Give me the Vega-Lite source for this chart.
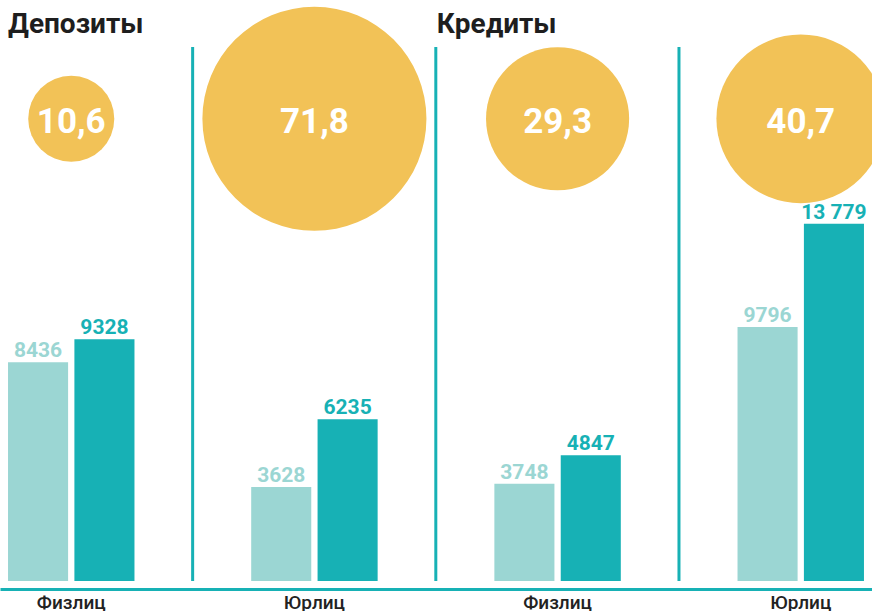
{
  "$schema": "https://vega.github.io/schema/vega-lite/v6.json",
  "width": 872,
  "height": 534,
  "autosize": {"type": "none"},
  "padding": {"left": 0, "top": 47, "right": 0, "bottom": 30},
  "background": "white",
  "config": {
    "view": {"stroke": null},
    "font": "Roboto",
    "axisY": {"disable": true},
    "axisX": {"title": null, "domain": true, "domainColor": "#17b1b5", "domainWidth": 3, "ticks": false, "grid": false, "labelAngle": 0, "offset": 8, "labelFontSize": 19, "labelColor": "#222222", "labelFontWeight": 500, "labelPadding": 4, "labelExpr": "split(datum.label, ' ')[1]"}
  },
  "datasets": {
    "bars": [
      {"grp": "Депозиты Физлиц", "s": "a", "v": 8436, "t": "8436"},
      {"grp": "Депозиты Физлиц", "s": "b", "v": 9328, "t": "9328"},
      {"grp": "Депозиты Юрлиц", "s": "a", "v": 3628, "t": "3628"},
      {"grp": "Депозиты Юрлиц", "s": "b", "v": 6235, "t": "6235"},
      {"grp": "Кредиты Физлиц", "s": "a", "v": 3748, "t": "3748"},
      {"grp": "Кредиты Физлиц", "s": "b", "v": 4847, "t": "4847"},
      {"grp": "Кредиты Юрлиц", "s": "a", "v": 9796, "t": "9796"},
      {"grp": "Кредиты Юрлиц", "s": "b", "v": 13779, "t": "13 779"}
    ],
    "circles": [
      {"grp": "Депозиты Физлиц", "p": 10.6, "t": "10,6"},
      {"grp": "Депозиты Юрлиц", "p": 71.8, "t": "71,8"},
      {"grp": "Кредиты Физлиц", "p": 29.3, "t": "29,3"},
      {"grp": "Кредиты Юрлиц", "p": 40.7, "t": "40,7"}
    ]
  },
  "layer": [
    {
      "data": {"values": [{"grp": "Депозиты Физлиц"}, {"grp": "Депозиты Юрлиц"}, {"grp": "Кредиты Физлиц"}]},
      "mark": {"type": "rule", "color": "#17b1b5", "strokeWidth": 3},
      "encoding": {
        "x": {"field": "grp", "type": "nominal", "bandPosition": 1.46}
      }
    },
    {
      "data": {"name": "circles"},
      "mark": {"type": "circle", "color": "#f2c257", "opacity": 1},
      "encoding": {
        "x": {"field": "grp", "type": "nominal"},
        "y": {"datum": 17830, "type": "quantitative", "scale": {"domain": [0, 20600], "nice": false}},
        "size": {"field": "p", "type": "quantitative", "scale": {"type": "linear", "domain": [0, 100], "range": [0, 69900]}, "legend": null}
      }
    },
    {
      "data": {"name": "circles"},
      "mark": {"type": "text", "color": "white", "fontSize": 35, "fontWeight": "bold", "baseline": "middle", "align": "center", "dy": 3},
      "encoding": {
        "x": {"field": "grp", "type": "nominal"},
        "y": {"datum": 17830, "type": "quantitative", "scale": {"domain": [0, 20600], "nice": false}},
        "text": {"field": "t"}
      }
    },
    {
      "data": {"name": "bars"},
      "mark": {"type": "bar"},
      "encoding": {
        "x": {
          "field": "grp", "type": "nominal",
          "scale": {"domain": ["Депозиты Физлиц", "Депозиты Юрлиц", "Кредиты Физлиц", "Кредиты Юрлиц"], "paddingInner": 0.48, "paddingOuter": 0.033}
        },
        "xOffset": {"field": "s", "type": "nominal", "scale": {"domain": ["a", "b"], "paddingInner": 0.095, "paddingOuter": 0}},
        "y": {"field": "v", "type": "quantitative", "scale": {"domain": [0, 20600], "nice": false}},
        "color": {"field": "s", "type": "nominal", "scale": {"domain": ["a", "b"], "range": ["#9bd6d3", "#17b1b5"]}, "legend": null}
      }
    },
    {
      "data": {"name": "bars"},
      "mark": {"type": "text", "fontSize": 21, "fontWeight": "bold", "baseline": "bottom", "align": "center", "dy": -1},
      "encoding": {
        "x": {"field": "grp", "type": "nominal"},
        "xOffset": {"field": "s", "type": "nominal"},
        "y": {"field": "v", "type": "quantitative", "scale": {"domain": [0, 20600], "nice": false}},
        "text": {"field": "t"},
        "color": {"field": "s", "type": "nominal", "legend": null}
      }
    },
    {
      "data": {"values": [{"grp": "Депозиты Физлиц", "t": "Депозиты"}]},
      "mark": {"type": "text", "fontSize": 28, "fontWeight": "bold", "color": "#1e1e1e", "baseline": "alphabetic", "align": "left"},
      "encoding": {
        "x": {"field": "grp", "type": "nominal", "bandPosition": 0},
        "y": {"datum": 21140, "type": "quantitative", "scale": {"domain": [0, 20600], "nice": false}},
        "text": {"field": "t"}
      }
    },
    {
      "data": {"values": [{"grp": "Депозиты Юрлиц", "t": "Кредиты"}]},
      "mark": {"type": "text", "fontSize": 28, "fontWeight": "bold", "color": "#1e1e1e", "baseline": "alphabetic", "align": "left", "dx": 1},
      "encoding": {
        "x": {"field": "grp", "type": "nominal", "bandPosition": 1.46},
        "y": {"datum": 21140, "type": "quantitative", "scale": {"domain": [0, 20600], "nice": false}},
        "text": {"field": "t"}
      }
    }
  ]
}
